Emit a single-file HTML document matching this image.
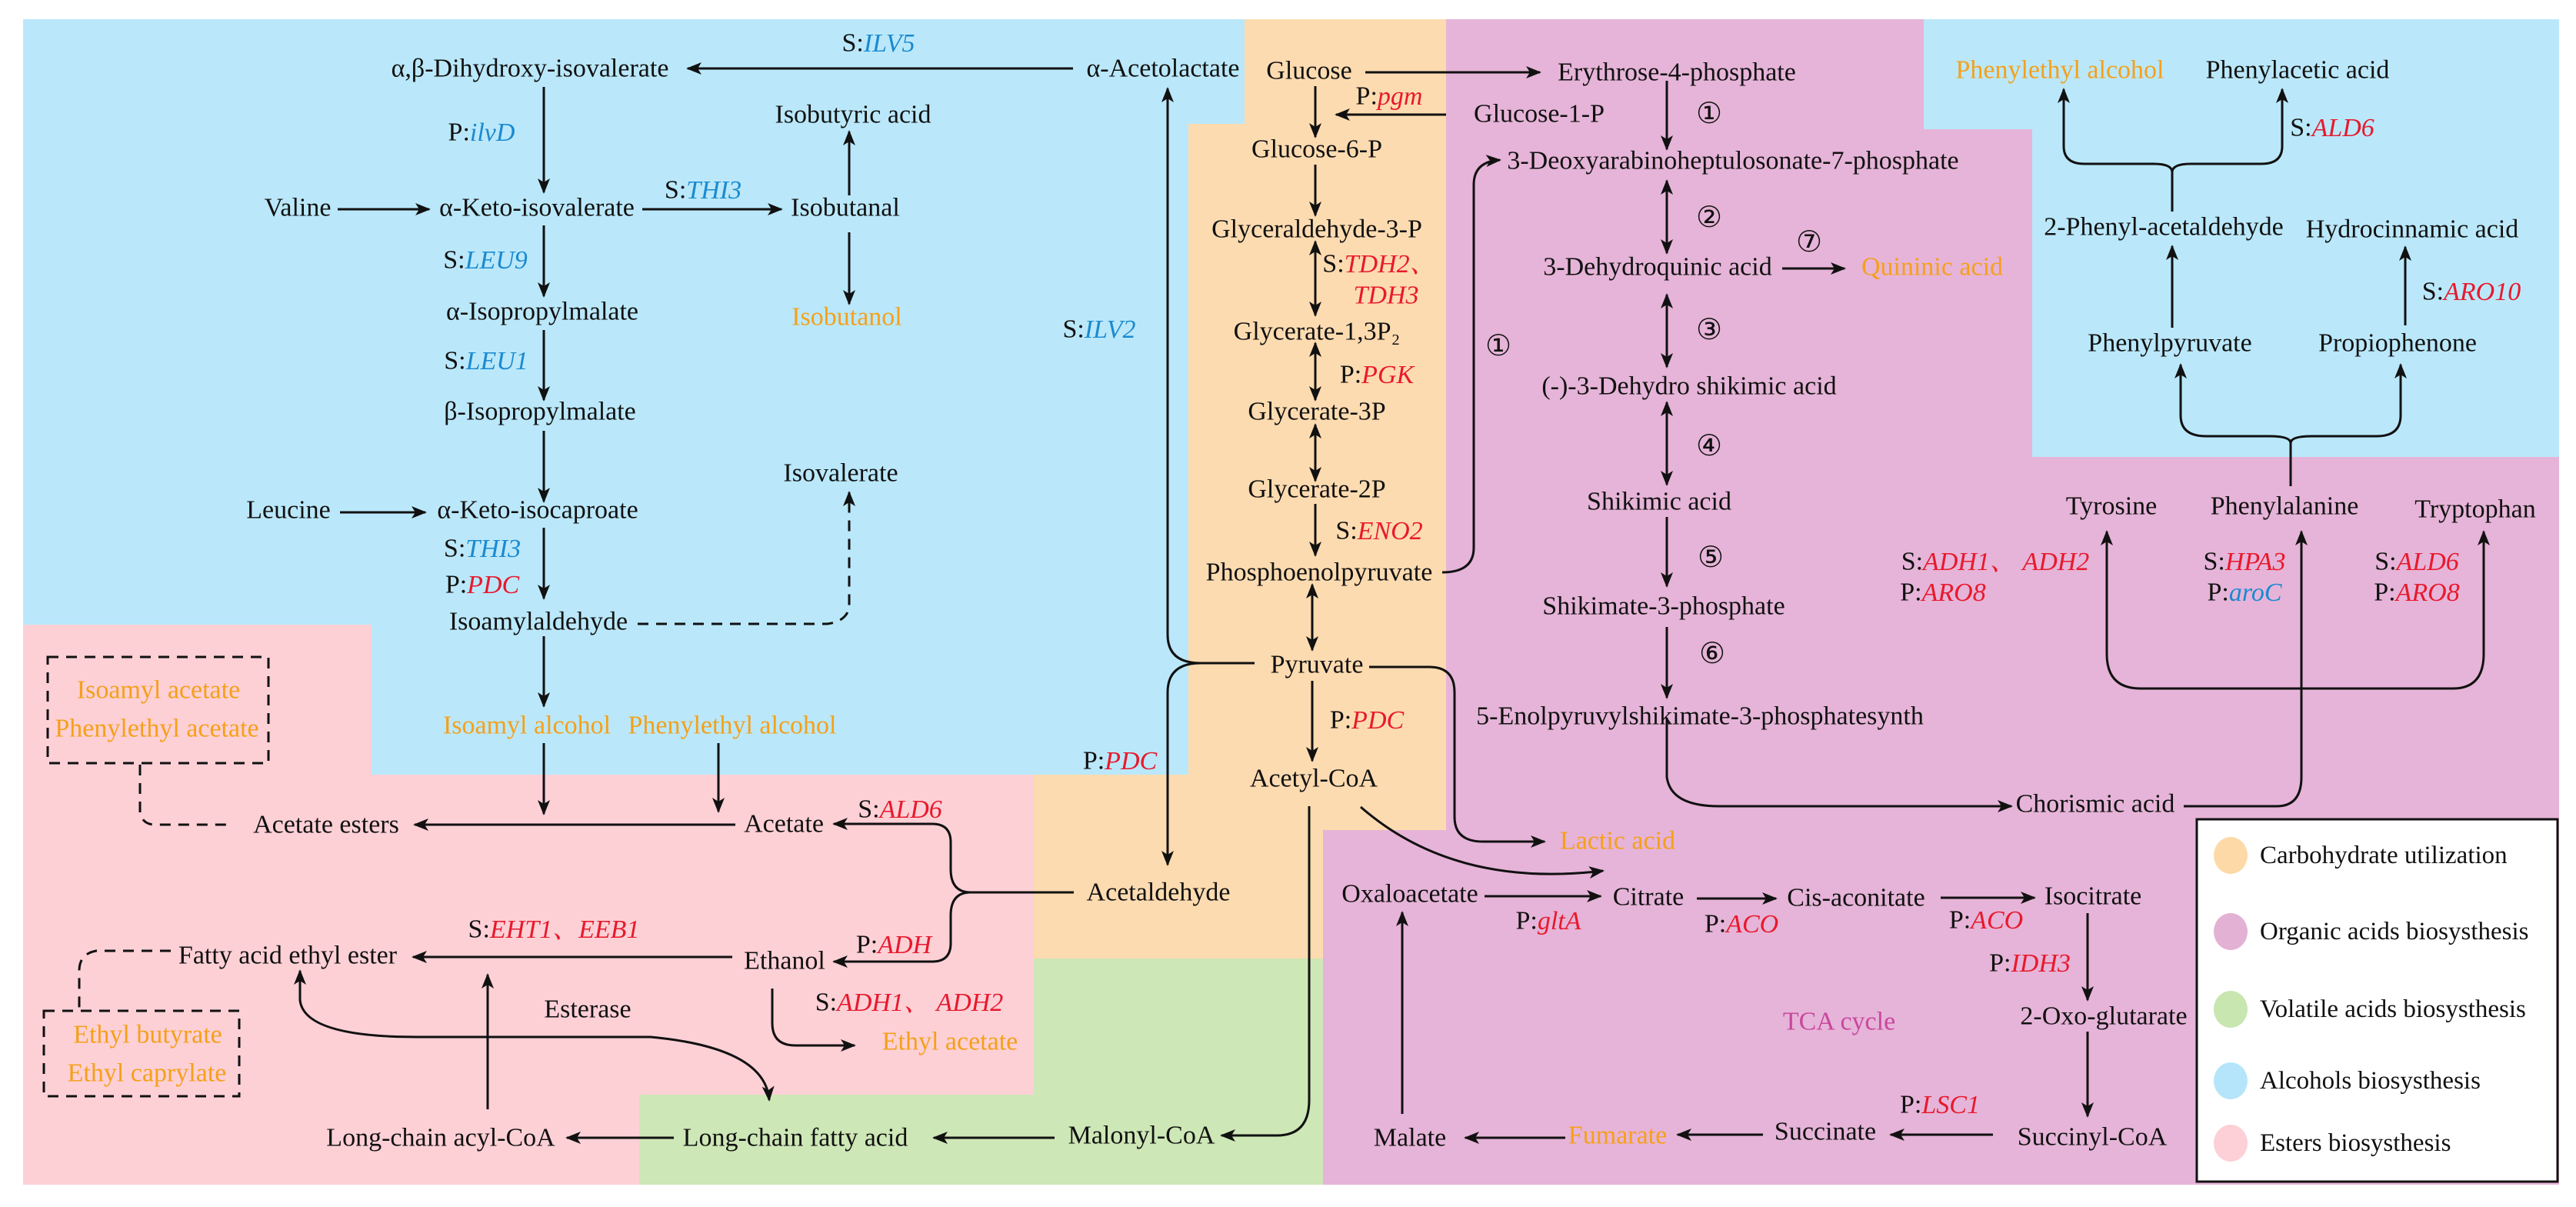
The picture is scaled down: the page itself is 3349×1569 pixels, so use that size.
<!DOCTYPE html>
<html><head><meta charset="utf-8">
<style>
html,body{margin:0;padding:0;background:#fff;}
svg{display:block;}
text{font-family:"Liberation Serif","Noto Serif CJK SC",serif;font-size:34px;fill:#111;dominant-baseline:central;text-anchor:middle;}
.o{fill:#f5a01a;}
.b{fill:#1a8ad0;font-style:italic;}
.r{fill:#e8192c;font-style:italic;}
.c{font-family:"DejaVu Sans",sans-serif;font-size:38px;}
.l{text-anchor:start;font-size:33px;}
path.a{fill:none;stroke:#111;stroke-width:3;marker-end:url(#ah);}
path.d{fill:none;stroke:#111;stroke-width:3;marker-end:url(#ah);marker-start:url(#ah);}
path.n{fill:none;stroke:#111;stroke-width:3;}
.dash{fill:none;stroke:#111;stroke-width:3;stroke-dasharray:14 10;}
</style></head>
<body>
<svg width="3349" height="1569" viewBox="0 0 3349 1569" xmlns="http://www.w3.org/2000/svg">
<defs>
<marker id="ah" markerUnits="userSpaceOnUse" markerWidth="22" markerHeight="18" refX="18" refY="8" orient="auto-start-reverse">
<path d="M0,0 L20,8 L0,16 L5,8 z" fill="#111"/>
</marker>
</defs>
<polygon fill="#bae8fa" points="30,25 1618,25 1618,161 1545,161 1545,1007 483,1007 483,812 30,812"/>
<polygon fill="#fddbb0" points="1618,25 1880,25 1880,1079 1720,1079 1720,1246 1344,1246 1344,1007 1545,1007 1545,161 1618,161"/>
<polygon fill="#fdd0d6" points="30,812 483,812 483,1007 1344,1007 1344,1423 831,1423 831,1540 30,1540"/>
<polygon fill="#cde7b6" points="1344,1246 1720,1246 1720,1540 831,1540 831,1423 1344,1423"/>
<polygon fill="#e6b4d8" points="1880,25 2501,25 2501,168 2642,168 2642,594 3327,594 3327,1540 1720,1540 1720,1079 1880,1079"/>
<polygon fill="#bae8fa" points="2501,25 3327,25 3327,594 2642,594 2642,168 2501,168"/>
<rect x="2856" y="1065" width="469" height="471" fill="#fff" stroke="#111" stroke-width="3"/>

<ellipse cx="2900" cy="1112" rx="22" ry="24" fill="#fdd9a8"/>
<ellipse cx="2900" cy="1211" rx="22" ry="24" fill="#e3b1d4"/>
<ellipse cx="2900" cy="1312" rx="22" ry="24" fill="#c8e6b0"/>
<ellipse cx="2900" cy="1405" rx="22" ry="24" fill="#b5e5fa"/>
<ellipse cx="2900" cy="1486" rx="22" ry="24" fill="#fcd0d6"/>
<text class="l" x="2938" y="1112">Carbohydrate utilization</text>
<text class="l" x="2938" y="1211">Organic acids biosysthesis</text>
<text class="l" x="2938" y="1312">Volatile acids biosysthesis</text>
<text class="l" x="2938" y="1405">Alcohols biosysthesis</text>
<text class="l" x="2938" y="1486">Esters biosysthesis</text>

<text x="1142" y="56">S:<tspan class="b">ILV5</tspan></text>
<text x="689" y="89">α,β-Dihydroxy-isovalerate</text>
<text x="1512" y="89">α-Acetolactate</text>
<text x="626" y="172">P:<tspan class="b">ilvD</tspan></text>
<text x="1109" y="149">Isobutyric acid</text>
<text x="387" y="270">Valine</text>
<text x="698" y="270">α-Keto-isovalerate</text>
<text x="914" y="247">S:<tspan class="b">THI3</tspan></text>
<text x="1099" y="270">Isobutanal</text>
<text class="o" x="1101" y="412">Isobutanol</text>
<text x="631" y="338">S:<tspan class="b">LEU9</tspan></text>
<text x="705" y="405">α-Isopropylmalate</text>
<text x="632" y="469">S:<tspan class="b">LEU1</tspan></text>
<text x="702" y="535">β-Isopropylmalate</text>
<text x="1093" y="615">Isovalerate</text>
<text x="375" y="663">Leucine</text>
<text x="699" y="663">α-Keto-isocaproate</text>
<text x="627" y="713">S:<tspan class="b">THI3</tspan></text>
<text x="627" y="760">P:<tspan class="r">PDC</tspan></text>
<text x="1429" y="428">S:<tspan class="b">ILV2</tspan></text>
<text x="700" y="808">Isoamylaldehyde</text>
<text class="o" x="685" y="943">Isoamyl alcohol</text>
<text class="o" x="952" y="943">Phenylethyl alcohol</text>

<rect x="62" y="854" width="287" height="138" class="dash"/>
<text class="o" x="206" y="897">Isoamyl acetate</text>
<text class="o" x="204" y="947">Phenylethyl acetate</text>
<path class="dash" d="M182,994 L182,1056 Q185,1072 202,1072 L303,1072"/>
<text x="424" y="1072">Acetate esters</text>
<text x="1019" y="1071">Acetate</text>
<text x="1170" y="1052">S:<tspan class="r">ALD6</tspan></text>
<text x="1456" y="989">P:<tspan class="r">PDC</tspan></text>
<text x="1506" y="1160">Acetaldehyde</text>
<text x="720" y="1208">S:<tspan class="r">EHT1、EEB1</tspan></text>
<text x="374" y="1242">Fatty acid ethyl ester</text>
<text x="1020" y="1249">Ethanol</text>
<text x="1162" y="1228">P:<tspan class="r">ADH</tspan></text>
<text x="1182" y="1303">S:<tspan class="r">ADH1、 ADH2</tspan></text>
<text class="o" x="1235" y="1354">Ethyl acetate</text>
<path class="dash" d="M222,1236 L125,1236 Q103,1240 103,1262 L103,1311"/>
<rect x="57" y="1314" width="254" height="111" class="dash"/>
<text class="o" x="192" y="1345">Ethyl butyrate</text>
<text class="o" x="191" y="1395">Ethyl caprylate</text>
<text x="764" y="1312">Esterase</text>
<text x="573" y="1479">Long-chain acyl-CoA</text>
<text x="1034" y="1479">Long-chain fatty acid</text>
<text x="1484" y="1476">Malonyl-CoA</text>

<text x="1702" y="92">Glucose</text>
<text x="2180" y="94">Erythrose-4-phosphate</text>
<text x="1806" y="125">P:<tspan class="r">pgm</tspan></text>
<text x="2001" y="148">Glucose-1-P</text>
<text x="1712" y="194">Glucose-6-P</text>
<text x="1712" y="298">Glyceraldehyde-3-P</text>
<text x="1793" y="343">S:<tspan class="r">TDH2、</tspan></text>
<text class="r" x="1802" y="384">TDH3</text>
<text x="1712" y="431">Glycerate-1,3P₂</text>
<text x="1790" y="487">P:<tspan class="r">PGK</tspan></text>
<text x="1712" y="535">Glycerate-3P</text>
<text x="1712" y="636">Glycerate-2P</text>
<text x="1793" y="690">S:<tspan class="r">ENO2</tspan></text>
<text x="1715" y="744">Phosphoenolpyruvate</text>
<text x="1712" y="864">Pyruvate</text>
<text x="1777" y="936">P:<tspan class="r">PDC</tspan></text>
<text x="1708" y="1012">Acetyl-CoA</text>
<text class="o" x="2103" y="1093">Lactic acid</text>

<text x="2253" y="209">3-Deoxyarabinoheptulosonate-7-phosphate</text>
<text class="c" x="2222" y="147">①</text>
<text class="c" x="1948" y="449">①</text>
<text class="c" x="2222" y="282">②</text>
<text x="2155" y="347">3-Dehydroquinic acid</text>
<text class="c" x="2352" y="314">⑦</text>
<text class="o" x="2512" y="347">Quininic acid</text>
<text class="c" x="2222" y="428">③</text>
<text x="2196" y="502">(-)-3-Dehydro shikimic acid</text>
<text class="c" x="2222" y="579">④</text>
<text x="2157" y="652">Shikimic acid</text>
<text class="c" x="2224" y="724">⑤</text>
<text x="2163" y="788">Shikimate-3-phosphate</text>
<text class="c" x="2226" y="849">⑥</text>
<text x="2210" y="931">5-Enolpyruvylshikimate-3-phosphatesynth</text>
<text x="2724" y="1045">Chorismic acid</text>

<text class="o" x="2678" y="91">Phenylethyl alcohol</text>
<text x="2987" y="91">Phenylacetic acid</text>
<text x="3032" y="166">S:<tspan class="r">ALD6</tspan></text>
<text x="2813" y="295">2-Phenyl-acetaldehyde</text>
<text x="3136" y="298">Hydrocinnamic acid</text>
<text x="3213" y="379">S:<tspan class="r">ARO10</tspan></text>
<text x="2821" y="446">Phenylpyruvate</text>
<text x="3117" y="446">Propiophenone</text>
<text x="2745" y="658">Tyrosine</text>
<text x="2970" y="658">Phenylalanine</text>
<text x="3218" y="662">Tryptophan</text>
<text x="2594" y="730">S:<tspan class="r">ADH1、 ADH2</tspan></text>
<text x="2526" y="770">P:<tspan class="r">ARO8</tspan></text>
<text x="2918" y="730">S:<tspan class="r">HPA3</tspan></text>
<text x="2918" y="770">P:<tspan class="b">aroC</tspan></text>
<text x="3142" y="730">S:<tspan class="r">ALD6</tspan></text>
<text x="3142" y="770">P:<tspan class="r">ARO8</tspan></text>

<text x="1833" y="1162">Oxaloacetate</text>
<text x="2143" y="1166">Citrate</text>
<text x="2013" y="1197">P:<tspan class="r">gltA</tspan></text>
<text x="2413" y="1167">Cis-aconitate</text>
<text x="2264" y="1201">P:<tspan class="r">ACO</tspan></text>
<text x="2721" y="1165">Isocitrate</text>
<text x="2582" y="1196">P:<tspan class="r">ACO</tspan></text>
<text x="2639" y="1252">P:<tspan class="r">IDH3</tspan></text>
<text x="2735" y="1321">2-Oxo-glutarate</text>
<text x="2391" y="1328" style="fill:#c9479f">TCA cycle</text>
<text x="2720" y="1478">Succinyl-CoA</text>
<text x="2522" y="1436">P:<tspan class="r">LSC1</tspan></text>
<text x="2373" y="1471">Succinate</text>
<text class="o" x="2103" y="1476">Fumarate</text>
<text x="1833" y="1479">Malate</text>

<path class="a" d="M1395,89 L894,89"/>
<path class="a" d="M707,113 L707,250"/>
<path class="a" d="M439,272 L558,272"/>
<path class="a" d="M835,272 L1016,272"/>
<path class="a" d="M1104,254 L1104,171"/>
<path class="a" d="M1104,302 L1104,395"/>
<path class="a" d="M707,293 L707,385"/>
<path class="a" d="M707,429 L707,520"/>
<path class="a" d="M707,560 L707,652"/>
<path class="a" d="M442,666 L553,666"/>
<path class="a" d="M707,686 L707,778"/>
<path class="dash" d="M829,811 L1075,811 Q1100,808 1104,790 L1104,650"/>
<path class="a" d="M1104,660 L1104,640"/>
<path class="a" d="M707,827 L707,918"/>
<path class="a" d="M707,966 L707,1058"/>
<path class="a" d="M934,966 L934,1055"/>
<path class="a" d="M1631,862 L1561,862 Q1518,862 1518,825 L1518,115"/>
<path class="a" d="M1561,862 Q1518,862 1518,900 L1518,1124"/>

<path class="a" d="M956,1072 L539,1072"/>
<path class="a" d="M1396,1160 L1262,1160 Q1236,1160 1236,1130 L1236,1095 Q1236,1071 1212,1071 L1084,1071"/>
<path class="a" d="M1262,1160 Q1236,1160 1236,1190 L1236,1226 Q1236,1250 1212,1250 L1084,1250"/>
<path class="a" d="M952,1244 L537,1244"/>
<path class="a" d="M1004,1285 L1004,1330 Q1004,1359 1034,1359 L1111,1359"/>
<path class="d" d="M390,1262 L390,1300 Q395,1348 542,1348 L846,1348 Q995,1362 1000,1430"/>
<path class="a" d="M634,1442 L634,1267"/>
<path class="a" d="M876,1479 L737,1479"/>
<path class="a" d="M1371,1479 L1214,1479"/>
<path class="a" d="M1702,1048 L1702,1430 Q1702,1476 1660,1476 L1588,1476"/>

<path class="a" d="M1775,94 L2002,94"/>
<path class="a" d="M1880,149 L1737,149"/>
<path class="a" d="M1710,112 L1710,178"/>
<path class="a" d="M1710,214 L1710,280"/>
<path class="d" d="M1710,314 L1710,410"/>
<path class="d" d="M1710,446 L1710,520"/>
<path class="d" d="M1710,552 L1710,625"/>
<path class="a" d="M1710,655 L1710,722"/>
<path class="d" d="M1706,760 L1706,845"/>
<path class="a" d="M1706,885 L1706,989"/>
<path class="a" d="M1875,744 Q1916,744 1916,712 L1916,240 Q1916,210 1950,208"/>
<path class="a" d="M1780,867 L1858,867 Q1891,867 1891,900 L1891,1062 Q1891,1094 1928,1094 L2008,1094"/>
<path class="a" d="M1769,1049 Q1890,1155 2084,1132"/>

<path class="a" d="M2167,105 L2167,194"/>
<path class="d" d="M2167,235 L2167,329"/>
<path class="a" d="M2317,349 L2398,349"/>
<path class="d" d="M2167,383 L2167,477"/>
<path class="d" d="M2167,523 L2167,630"/>
<path class="a" d="M2167,672 L2167,762"/>
<path class="a" d="M2167,815 L2167,907"/>
<path class="a" d="M2167,933 L2167,1010 Q2172,1048 2235,1048 L2615,1048"/>
<path class="a" d="M2839,1048 L2960,1048 Q2992,1048 2992,1010 L2992,691"/>
<path class="d" d="M2739,691 L2739,850 Q2739,895 2783,895 L3189,895 Q3229,895 3229,850 L3229,691"/>
<path class="n" d="M2978,632 L2978,576"/>
<path class="a" d="M2978,576 Q2978,567 2950,567 L2868,567 Q2835,567 2835,540 L2835,474"/>
<path class="a" d="M2978,576 Q2978,567 3006,567 L3090,567 Q3121,567 3121,540 L3121,474"/>
<path class="a" d="M2824,426 L2824,320"/>
<path class="a" d="M3127,423 L3127,321"/>
<path class="n" d="M2824,275 L2824,224"/>
<path class="a" d="M2824,224 Q2824,213 2800,213 L2710,213 Q2683,213 2683,190 L2683,116"/>
<path class="a" d="M2824,224 Q2824,213 2848,213 L2940,213 Q2967,213 2967,190 L2967,116"/>

<path class="a" d="M1930,1165 L2081,1165"/>
<path class="a" d="M2206,1168 L2309,1168"/>
<path class="a" d="M2523,1167 L2645,1167"/>
<path class="a" d="M2714,1187 L2714,1300"/>
<path class="a" d="M2714,1341 L2714,1451"/>
<path class="a" d="M2591,1475 L2458,1475"/>
<path class="a" d="M2292,1475 L2181,1475"/>
<path class="a" d="M2035,1479 L1905,1479"/>
<path class="a" d="M1823,1448 L1823,1186"/>
</svg>
</body></html>
